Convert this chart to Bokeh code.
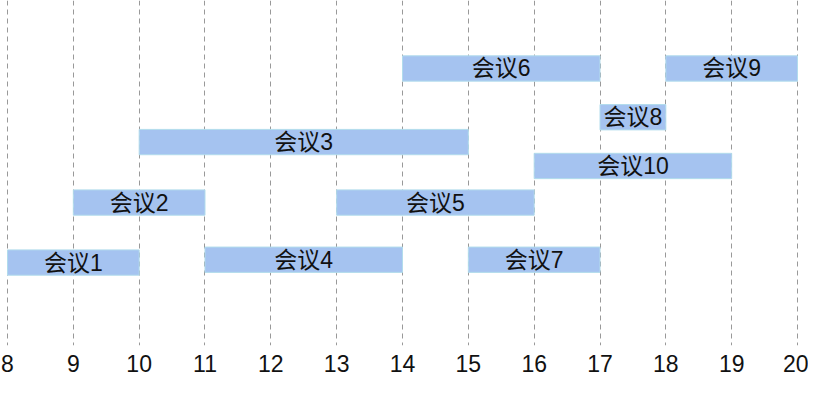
from bokeh.plotting import figure
from bokeh.models import Range1d, FixedTicker, ColumnDataSource
from bokeh.core.properties import value
from bokeh.embed import file_html
from bokeh.resources import INLINE

names = ["会议1", "会议2", "会议3", "会议4", "会议5", "会议6", "会议7", "会议8", "会议9", "会议10"]
starts = [8, 9, 10, 11, 13, 14, 15, 17, 18, 16]
ends = [10, 11, 15, 14, 16, 17, 17, 18, 20, 19]
# vertical lane positions (units measured downward from top)
lanes = [279.5, 215.5, 151, 276.5, 215.5, 72.5, 276.5, 124.5, 72.5, 176.5]
hours = list(range(8, 21))

src = ColumnDataSource(dict(
    name=names, start=starts, end=ends, lane=lanes,
    mid=[(s + e) / 2 for s, e in zip(starts, ends)],
))

p = figure(frame_width=792, frame_height=345, output_backend="svg", toolbar_location=None,
           x_range=Range1d(7.985, 20.015), y_range=Range1d(368, 0),
           min_border_left=6, min_border_right=10, min_border_top=0, min_border_bottom=33)
p.outline_line_color = None
p.yaxis.visible = False
p.ygrid.grid_line_color = None

p.xaxis.ticker = FixedTicker(ticks=hours)
p.xaxis.axis_line_color = None
p.xaxis.major_tick_line_color = None
p.xaxis.minor_tick_line_color = None
p.xaxis.major_label_text_font = "Liberation Sans"
p.xaxis.major_label_text_font_size = "23px"
p.xaxis.major_label_text_color = "#111111"
p.xaxis.major_label_standoff = 3

p.xgrid.ticker = FixedTicker(ticks=hours)
p.xgrid.grid_line_color = "#999999"
p.xgrid.grid_line_dash = "5 4"
p.xgrid.grid_line_width = 1

p.hbar(y="lane", left="start", right="end", height=27, source=src,
       fill_color="#a5c3f0", line_color="#b2dcec", line_width=1)

p.text(x="mid", y="lane", text="name", source=src,
       text_font=value("Liberation Sans, 'Noto Sans CJK SC'"), text_font_size="23px",
       text_align="center", text_baseline="middle", text_color="#111111")

open("out.html", "w").write(file_html(p, INLINE))
